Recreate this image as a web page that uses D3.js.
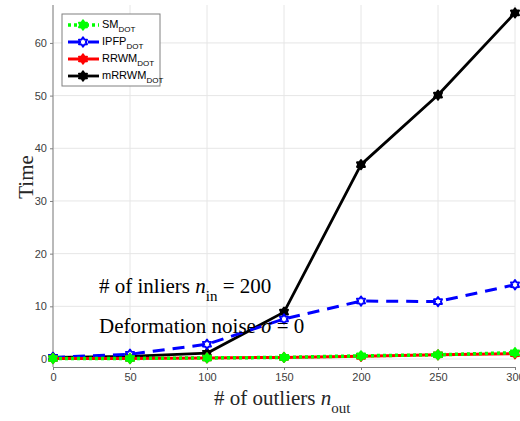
<!DOCTYPE html>
<html>
<head>
<meta charset="utf-8">
<script src="https://cdn.jsdelivr.net/npm/d3@7"></script>
<style>
  html, body { margin: 0; padding: 0; background: #fff; }
  svg { display: block; }
</style>
</head>
<body>
<svg id="chart" width="520" height="421"></svg>
<script>
// Outlier counts on the x axis
const outliers = [0, 50, 100, 150, 200, 250, 300];
// Running time of each method
const smDot = [0.1, 0.1, 0.2, 0.3, 0.6, 0.8, 1.2];
const ipfpDot = [0.3, 0.9, 2.8, 7.6, 11.0, 10.9, 14.1];
const rrwmDot = [0.1, 0.1, 0.2, 0.3, 0.5, 0.8, 1.0];
const mrrwmDot = [0.3, 0.5, 1.1, 8.9, 36.9, 50.1, 65.7];
const xTicks = [0, 50, 100, 150, 200, 250, 300];
const yTicks = [0, 10, 20, 30, 40, 50, 60];
const seriesNames = ["SM", "IPFP", "RRWM", "mRRWM"];

const svg = d3.select("#chart");
const plotLeft = 53, plotRight = 515, plotTop = 5, plotBottom = 359;

const x = d3.scaleLinear().domain([0, 300]).range([plotLeft, plotRight]);
const y = d3.scaleLinear().domain([0, 67.2]).range([plotBottom, plotTop]);

// grid
const grid = svg.append("g");
grid.selectAll(".vg").data(xTicks).join("line")
  .attr("x1", d => x(d)).attr("x2", d => x(d))
  .attr("y1", plotTop).attr("y2", plotBottom)
  .attr("stroke", "#e6e6e6").attr("stroke-width", 1);
grid.selectAll(".hg").data(yTicks).join("line")
  .attr("x1", plotLeft).attr("x2", plotRight)
  .attr("y1", d => y(d)).attr("y2", d => y(d))
  .attr("stroke", "#e6e6e6").attr("stroke-width", 1);

// axes
const xAxis = d3.axisBottom(x).tickValues(xTicks).tickSize(3).tickPadding(3).tickSizeOuter(0);
const yAxis = d3.axisLeft(y).tickValues(yTicks).tickSize(3).tickPadding(3).tickSizeOuter(0);
const gx = svg.append("g").attr("transform", `translate(0,${plotBottom + 8})`).call(xAxis);
const gy = svg.append("g").attr("transform", `translate(${plotLeft},0)`).call(yAxis);
[gx, gy].forEach(g => {
  g.select(".domain").attr("stroke", "#808080");
  g.selectAll(".tick line").attr("stroke", "#808080");
  g.selectAll(".tick text").attr("fill", "#404040")
    .style("font-family", "'Liberation Sans', Arial, sans-serif").style("font-size", "11px");
});
gy.select(".domain").attr("d", `M0,${plotTop}V${plotBottom + 8}`);

// hexagram marker
function hexagram(r) {
  const pts = [];
  for (let i = 0; i < 12; i++) {
    const a = -Math.PI / 2 + i * Math.PI / 6;
    const rr = i % 2 === 0 ? r : r * 0.62;
    pts.push([rr * Math.cos(a), rr * Math.sin(a)]);
  }
  return "M" + pts.map(p => p.join(",")).join("L") + "Z";
}

const series = [
  { name: "mRRWM", data: mrrwmDot, color: "#000000", dash: null, fill: "#000000", width: 2.8 },
  { name: "IPFP", data: ipfpDot, color: "#0000ff", dash: "12,8", fill: "#ffffff", width: 3 },
  { name: "RRWM", data: rrwmDot, color: "#ff0000", dash: null, fill: "#ff0000", width: 3 },
  { name: "SM", data: smDot, color: "#00ff00", dash: "3,3", fill: "#00ff00", width: 3.5 }
];

const line = d3.line().x((d, i) => x(outliers[i])).y(d => y(d));

series.forEach(s => {
  const g = svg.append("g");
  g.append("path").datum(s.data).attr("d", line)
    .attr("fill", "none").attr("stroke", s.color).attr("stroke-width", s.width)
    .attr("stroke-dasharray", s.dash).attr("stroke-linejoin", "round");
  g.selectAll("path.m").data(s.data).join("path").attr("class", "m")
    .attr("transform", (d, i) => `translate(${x(outliers[i])},${y(d)})`)
    .attr("d", hexagram(4.6))
    .attr("fill", s.fill).attr("stroke", s.color).attr("stroke-width", 2)
    .attr("stroke-linejoin", "round");
});

// legend
const lg = svg.append("g").attr("transform", "translate(62,14)");
lg.append("rect").attr("width", 98).attr("height", 72)
  .attr("fill", "#fff").attr("stroke", "#808080").attr("stroke-width", 1);
seriesNames.forEach((n, i) => {
  const s = series.find(d => d.name === n);
  const yy = 11 + i * 17;
  lg.append("line").attr("x1", 6).attr("x2", 37).attr("y1", yy).attr("y2", yy)
    .attr("stroke", s.color).attr("stroke-width", s.width).attr("stroke-dasharray", s.dash);
  lg.append("path").attr("transform", `translate(21,${yy})`).attr("d", hexagram(4.6))
    .attr("fill", s.fill).attr("stroke", s.color).attr("stroke-width", 2)
    .attr("stroke-linejoin", "round");
  const t = lg.append("text").attr("x", 40).attr("y", yy + 3)
    .style("font-family", "'Liberation Sans', Arial, sans-serif").style("font-size", "11px").attr("fill", "#000");
  t.append("tspan").text(n);
  t.append("tspan").attr("dy", 4).style("font-size", "8px").text("DOT");
});

// annotations
const serif = "'Liberation Serif', 'Times New Roman', serif";
const a1 = svg.append("text").attr("x", 99).attr("y", 293)
  .style("font-family", serif).style("font-size", "21px").attr("fill", "#000");
a1.append("tspan").text("# of inliers ");
a1.append("tspan").style("font-style", "italic").text("n");
a1.append("tspan").attr("dy", 8).style("font-size", "15px").text("in");
a1.append("tspan").attr("dy", -8).text(" = 200");

const a2 = svg.append("text").attr("x", 99).attr("y", 333)
  .style("font-family", serif).style("font-size", "21px").attr("fill", "#000");
a2.append("tspan").text("Deformation noise ");
a2.append("tspan").style("font-style", "italic").text("σ");
a2.append("tspan").text(" = 0");

// axis titles
const xt = svg.append("text").attr("x", 214).attr("y", 405)
  .style("font-family", serif).style("font-size", "21px").attr("fill", "#262626");
xt.append("tspan").text("# of outliers ");
xt.append("tspan").style("font-style", "italic").text("n");
xt.append("tspan").attr("dy", 8).style("font-size", "15px").text("out");

svg.append("text").attr("transform", "translate(33,177) rotate(-90)")
  .attr("text-anchor", "middle")
  .style("font-family", serif).style("font-size", "21px").attr("fill", "#262626")
  .text("Time");
</script>
</body>
</html>
